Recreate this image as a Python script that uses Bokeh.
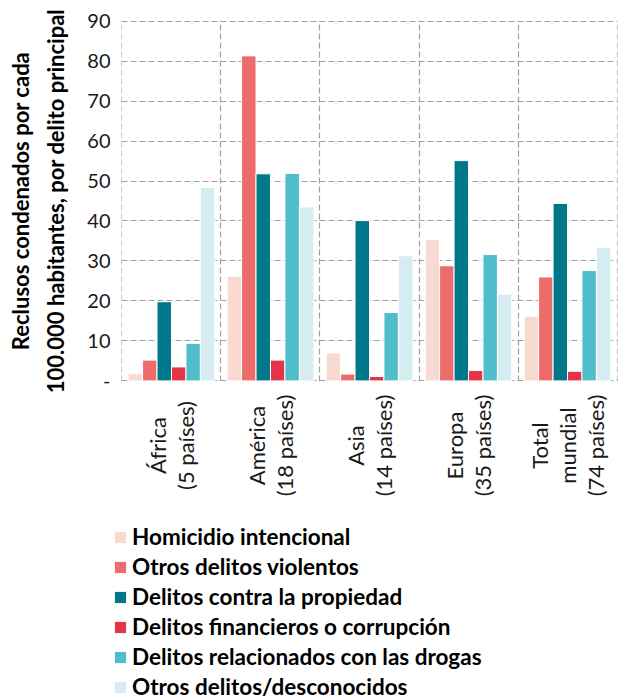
import math
from bokeh.plotting import figure
from bokeh.layouts import column
from bokeh.models import (ColumnDataSource, FixedTicker, Legend, LegendItem, Range1d,
                          Plot)
from bokeh.core.properties import value
from bokeh.transform import dodge
from bokeh.embed import file_html
from bokeh.resources import INLINE

# ---- data ----
regions = ["África\n(5 países)", "América\n(18 países)", "Asia\n(14 países)",
           "Europa\n(35 países)", "Total\nmundial\n(74 países)"]
series_names = ["Homicidio intencional", "Otros delitos violentos",
                "Delitos contra la propiedad", "Delitos financieros o corrupción",
                "Delitos relacionados con las drogas", "Otros delitos/desconocidos"]
homicidio = [1.8, 26.2, 7.0, 35.4, 16.2]
violentos = [5.2, 81.3, 1.7, 28.8, 26.0]
propiedad = [19.8, 51.8, 40.1, 55.1, 44.4]
financieros = [3.5, 5.2, 1.1, 2.6, 2.4]
drogas = [9.4, 51.9, 17.1, 31.6, 27.6]
otros = [48.4, 43.5, 31.3, 21.7, 33.4]
y_ticks = [0, 10, 20, 30, 40, 50, 60, 70, 80, 90]
y_tick_labels = ["-", "10", "20", "30", "40", "50", "60", "70", "80", "90"]

colors = ["#F9DAD2", "#EC6B6B", "#00788A", "#E5334A", "#4FBDCA", "#D5ECF0"]

pos = list(range(len(regions)))
src = ColumnDataSource(dict(x=pos, s0=homicidio, s1=violentos, s2=propiedad,
                            s3=financieros, s4=drogas, s5=otros))

FONT = "Lato"
W = 619
L1 = 121
R = 2
H1 = 392
H2 = 308
x0, x1 = -0.505, 4.505
HAS_FA = "frame_align" in Plot.properties()

# ---------------- main chart ----------------
p = figure(width=W, height=H1, x_range=Range1d(x0, x1), y_range=Range1d(-0.15, 90.15),
           output_backend="svg", toolbar_location=None, x_axis_location=None,
           min_border_left=L1, min_border_right=R, min_border_top=20,
           min_border_bottom=11)
p.outline_line_color = None

bw = 0.146
for k in range(6):
    off = (k - 2.5) * bw
    p.vbar(x=dodge("x", off, range=p.x_range), top="s%d" % k, width=bw,
           source=src, fill_color=colors[k], line_color="white", line_width=1)

p.ygrid.ticker = FixedTicker(ticks=y_ticks)
p.xgrid.ticker = FixedTicker(ticks=[i - 0.5 for i in range(len(regions) + 1)])
for g in (p.xgrid, p.ygrid):
    g.grid_line_color = "#A0A0A0"
    g.grid_line_dash = "6 3"
    g.grid_line_width = 1.2

ya = p.yaxis[0]
ya.ticker = FixedTicker(ticks=y_ticks)
ya.major_label_overrides = {t: l for t, l in zip(y_ticks, y_tick_labels)}
ya.axis_line_color = None
ya.major_tick_line_color = None
ya.minor_tick_line_color = None
ya.major_tick_out = 0
ya.major_tick_in = 0
ya.minor_tick_out = 0
ya.major_label_text_font = FONT
ya.major_label_text_font_size = "20px"
ya.major_label_text_color = "#1a1a1a"
ya.major_label_standoff = 11
ya.axis_label = "Reclusos condenados por cada\n100.000 habitantes, por delito principal"
ya.axis_label_text_font = FONT
ya.axis_label_text_font_style = "bold"
ya.axis_label_text_font_size = "22px"
ya.axis_label_text_line_height = 1.3
ya.axis_label_text_color = "black"
ya.axis_label_standoff = 15

# ---------------- labels + legend ----------------
ppu = (W - L1 - R) / (x1 - x0)
L2 = 101 if HAS_FA else L1
p2 = figure(width=W, height=H2,
            x_range=Range1d(x0 - (L1 - L2) / ppu, x1), y_range=Range1d(H2, 0),
            output_backend="svg", toolbar_location=None,
            x_axis_location=None, y_axis_location=None,
            min_border_left=L2, min_border_right=R, min_border_top=0,
            min_border_bottom=0)
p2.outline_line_color = None
p2.grid.visible = False
if HAS_FA:
    p.frame_align = False
    p2.frame_align = False

lab_src = ColumnDataSource(dict(x=pos, y=[53] * len(pos), text=regions))
p2.text(x="x", y="y", text="text", source=lab_src, angle=math.pi / 2,
        text_align="center", text_baseline="middle", text_font=value(FONT),
        text_font_size="22px", text_line_height=1.05, text_color="#1a1a1a")

# legend swatches (one hidden bar each, outside the visible range)
items = []
for k in range(6):
    r = p2.vbar(x=[x0 - 10], top=[0], width=bw, fill_color=colors[k],
                line_color=None)
    items.append(LegendItem(label=series_names[k], renderers=[r]))

legend = Legend(items=items, location=(113 - L2, 0))
legend.label_text_font = FONT
legend.label_text_font_style = "bold"
legend.label_text_font_size = "22.5px"
legend.label_text_color = "black"
legend.glyph_width = 14
legend.glyph_height = 14
legend.label_height = 27
legend.spacing = 3
legend.label_standoff = 5
legend.padding = 0
legend.margin = 0
legend.border_line_color = None
legend.background_fill_alpha = 0
p2.add_layout(legend, "center")

layout = column(p, p2, spacing=0)
open("out.html", "w").write(file_html(layout, INLINE))
